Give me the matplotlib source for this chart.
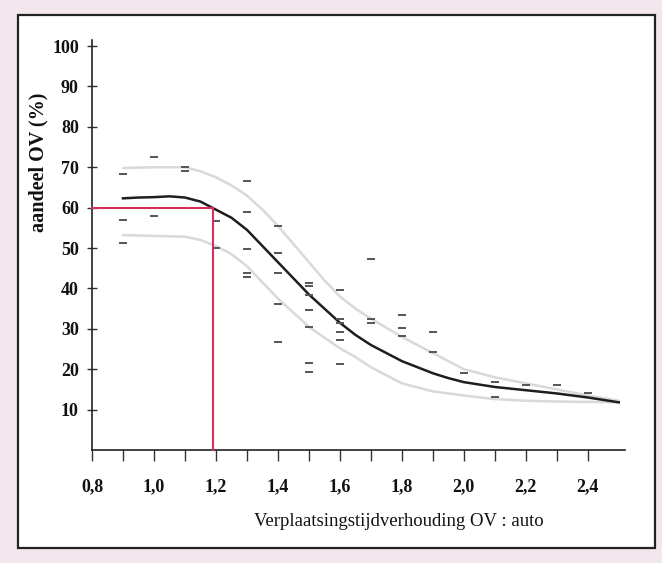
import matplotlib
matplotlib.use("Agg")
import matplotlib.pyplot as plt
from matplotlib.patches import Rectangle
from matplotlib.ticker import FixedLocator, FuncFormatter

# ---- data ----
curve_x = [0.90, 0.95, 1.00, 1.05, 1.10, 1.15, 1.20, 1.25, 1.30, 1.35, 1.40, 1.45,
           1.50, 1.55, 1.60, 1.65, 1.70, 1.75, 1.80, 1.85, 1.90, 1.95, 2.00, 2.10,
           2.20, 2.30, 2.40, 2.50]
curve_main = [62.3, 62.5, 62.6, 62.8, 62.5, 61.5, 59.5, 57.5, 54.5, 50.5, 46.5, 42.5,
              38.5, 35.0, 31.5, 28.5, 26.0, 24.0, 22.0, 20.5, 19.0, 17.8, 16.8, 15.6,
              14.8, 14.0, 13.0, 11.8]

upper_x = [0.90, 1.00, 1.10, 1.15, 1.20, 1.25, 1.30, 1.35, 1.40, 1.45, 1.50, 1.55,
           1.60, 1.65, 1.70, 1.80, 1.90, 2.00, 2.10, 2.20, 2.30, 2.40, 2.50]
upper_y = [69.8, 70.0, 70.0, 69.0, 67.5, 65.5, 63.0, 59.5, 55.5, 51.0, 46.5, 42.0,
           38.0, 35.0, 32.5, 28.0, 24.0, 20.0, 18.0, 16.5, 15.0, 13.5, 12.2]

lower_x = [0.90, 1.00, 1.10, 1.15, 1.20, 1.25, 1.30, 1.35, 1.40, 1.45, 1.50, 1.55,
           1.60, 1.65, 1.70, 1.75, 1.80, 1.90, 2.00, 2.10, 2.20, 2.30, 2.40, 2.50]
lower_y = [53.2, 53.0, 52.8, 52.0, 50.5, 48.5, 45.5, 41.5, 37.5, 34.0, 30.5, 27.8,
           25.2, 23.0, 20.5, 18.5, 16.5, 14.5, 13.5, 12.6, 12.2, 12.0, 11.9, 11.8]

obs_x = [0.9, 0.9, 0.9,
         1.0, 1.0, 1.0,
         1.1, 1.1, 1.1,
         1.2, 1.2,
         1.3, 1.3, 1.3, 1.3, 1.3,
         1.4, 1.4, 1.4, 1.4, 1.4,
         1.5, 1.5, 1.5, 1.5, 1.5, 1.5, 1.5,
         1.6, 1.6, 1.6, 1.6, 1.6, 1.6,
         1.7, 1.7, 1.7,
         1.8, 1.8, 1.8,
         1.9, 1.9,
         2.0,
         2.1, 2.1,
         2.2,
         2.3,
         2.4]
obs_y = [68.3, 57.0, 51.2,
         72.5, 60.0, 58.0,
         70.0, 69.0, 60.0,
         56.7, 50.0,
         66.5, 58.8, 49.8, 43.8, 42.8,
         55.4, 48.7, 43.8, 36.1, 26.7,
         41.3, 40.6, 38.4, 34.7, 30.4, 21.5, 19.3,
         39.6, 32.4, 31.4, 29.2, 27.2, 21.3,
         47.3, 32.4, 31.4,
         33.4, 30.2, 28.2,
         29.2, 24.3,
         19.0,
         16.8, 13.1,
         16.1,
         16.1,
         14.1]

ref_x = 1.19
ref_y = 60

x_major = [0.8, 1.0, 1.2, 1.4, 1.6, 1.8, 2.0, 2.2, 2.4]
x_minor = [0.9, 1.1, 1.3, 1.5, 1.7, 1.9, 2.1, 2.3]
y_ticks = [10, 20, 30, 40, 50, 60, 70, 80, 90, 100]

xlabel = "Verplaatsingstijdverhouding OV : auto"
ylabel = "aandeel OV (%)"

# ---- figure ----
plt.rcParams['font.family'] = ['Liberation Serif', 'DejaVu Serif']
fig = plt.figure(figsize=(6.62, 5.63), dpi=100, facecolor='#f3e6ec')
fig.patches.append(Rectangle((18 / 662, 1 - 548 / 563), (655 - 18) / 662, (548 - 15) / 563,
                             transform=fig.transFigure, facecolor='white',
                             edgecolor='#222222', linewidth=1.6, zorder=-10))

ax = fig.add_axes([92 / 662, 1 - 450 / 563, (625 - 92) / 662, (450 - 40) / 563])
ax.set_zorder(2)
ax.set_facecolor('none')
ax.set_xlim(0.8, 2.52)
ax.set_ylim(0, 101.5)

ax.plot(upper_x, upper_y, color='#d9d9d9', lw=1.8, solid_capstyle='round', zorder=2)
ax.plot(lower_x, lower_y, color='#d9d9d9', lw=1.8, solid_capstyle='round', zorder=2)
ax.plot(curve_x, curve_main, color='#1e1e1e', lw=1.8, zorder=3)
ax.plot(obs_x, obs_y, linestyle='none', marker='_', markersize=5.5, mew=1.4,
        color='#555555', zorder=4)

ax.plot([0.8, ref_x], [ref_y, ref_y], color='#d8305a', lw=1.5, zorder=5, clip_on=False)
ax.plot([ref_x, ref_x], [0, ref_y], color='#d8305a', lw=1.5, zorder=5, clip_on=False)

for s in ['top', 'right']:
    ax.spines[s].set_visible(False)
for s in ['left', 'bottom']:
    ax.spines[s].set_color('#222222')
    ax.spines[s].set_linewidth(1.2)

ax.xaxis.set_major_locator(FixedLocator(x_major))
ax.xaxis.set_minor_locator(FixedLocator(x_minor))
ax.yaxis.set_major_locator(FixedLocator(y_ticks))
fmt = FuncFormatter(lambda v, p: f"{v:.1f}".replace('.', ','))
ax.xaxis.set_major_formatter(fmt)
ax.yaxis.set_major_formatter(FuncFormatter(lambda v, p: f"{int(round(v))}"))

ax.tick_params(axis='x', which='both', direction='out', length=8, width=1.0,
               color='#333333', labelsize=13, pad=12, labelcolor='#111111')
ax.tick_params(axis='y', which='major', direction='inout', length=7, width=1.0,
               color='#333333', labelsize=13, pad=6, labelcolor='#111111')
for lab in ax.get_xticklabels() + ax.get_yticklabels():
    lab.set_fontweight('bold')

fig.text(399 / 662, 1 - 521 / 563, xlabel, ha='center', va='center', fontsize=13.5,
         color='#111111')
fig.text(38 / 662, 1 - 162 / 563, ylabel, ha='center', va='center', rotation=90,
         fontsize=14.5, fontweight='bold', color='#111111')

fig.savefig('out.png', dpi=100, facecolor=fig.get_facecolor())
